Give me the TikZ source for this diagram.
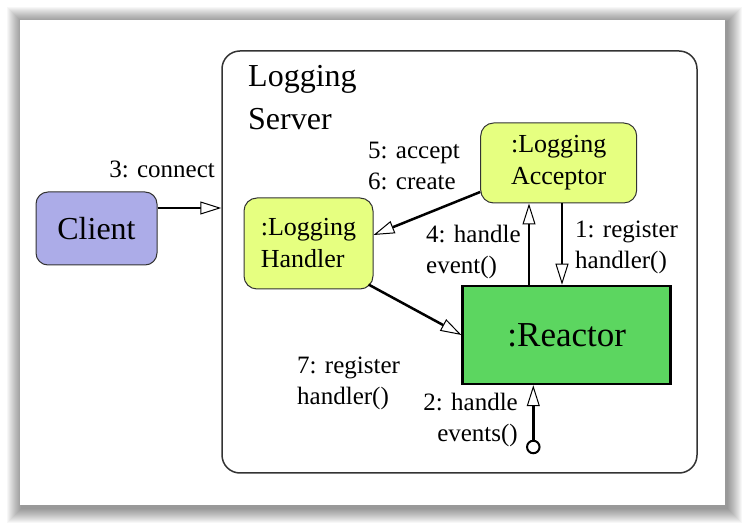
\documentclass[tikz,border=0pt]{standalone}
\usepackage{fontspec}
\setmainfont{Liberation Serif}[Ligatures=TeX]
\usetikzlibrary{arrows.meta}
\definecolor{clientblue}{RGB}{172,172,232}
\definecolor{loggeryellow}{RGB}{230,255,128}
\definecolor{reactorgreen}{RGB}{92,214,96}
\def\card{(20,20) rectangle (725,505)}

\begin{document}
\begin{tikzpicture}[x=1pt,y=-1pt,
	obj/.style={draw=black!80,line width=1pt,rounded corners=13pt,fill=loggeryellow,align=left,font=\fontsize{26}{32}\selectfont},
	msg/.style={line width=2.5pt,-{Triangle[length=21pt,width=13pt,line width=1pt,fill=white]}},
	lbl/.style={inner sep=0pt,font=\fontsize{25}{31}\selectfont}]
	
	\useasboundingbox (0,0) rectangle (745,526);
	\fill[white] (0,0) rectangle (745,526);
	\foreach \i in {1,...,15}
		\fill[black,opacity=0.03] (22-\i,22-\i) rectangle (727+\i,508+\i);
	\fill[white] \card;
	
	\node[draw=black!80,line width=1.5pt,rounded corners=18pt,minimum width=475pt,minimum height=422pt] (server) at (459.5,262) {};
	\node[anchor=base west,align=left,inner sep=0pt,font=\fontsize{32}{43}\selectfont] (title) at (248,130) {Logging\\Server};
	\node[draw=black!80,line width=1pt,rounded corners=12pt,fill=clientblue,minimum width=121pt,minimum height=73pt,font=\fontsize{32}{38}\selectfont] (client) at (96.5,228.5) {Client};
	\node[obj,minimum width=129pt,minimum height=91pt] (handler) at (308.5,243.5) {:Logging\\Handler};
	\node[obj,minimum width=156pt,minimum height=80pt] (acceptor) at (558.7,163) {:Logging\\Acceptor};
	\node[draw,line width=2.5pt,fill=reactorgreen,minimum width=208pt,minimum height=98pt,font=\fontsize{35}{40}\selectfont] (reactor) at (566.7,335) {:Reactor};
	\node[draw,circle,line width=2pt,fill=white,inner sep=0pt,minimum size=12.5pt] (dot) at (533.3,447) {};
	
	\draw[msg] (client.east |- 0,208) -- (server.west |- 0,208);
	\draw[msg] (acceptor.west |- 0,192) -- (handler.east |- 0,235);
	\draw[msg] ([shift={(-5,-5)}]handler.south east) -- (reactor.west);
	\draw[msg] (reactor.north -| 529,0) -- (acceptor.south -| 529,0);
	\draw[msg] (acceptor.south -| 562,0) -- (reactor.north -| 562,0);
	\draw[msg] (dot) -- (reactor.south -| dot);
	
	\node[lbl,anchor=base east] (l3) at (215,178) {3: connect};
	\node[lbl,anchor=base west,align=left] (l5) at (368,190) {5: accept\\6: create};
	\node[lbl,anchor=base west,align=left] (l4) at (426,274) {4: handle\\event()};
	\node[lbl,anchor=base west,align=left] (l1) at (575,269) {1: register\\handler()};
	\node[lbl,anchor=base west,align=left] (l7) at (297,405) {7: register\\handler()};
	\node[lbl,anchor=base east,align=right] (l2) at (518,442) {2: handle\\events()};
	
\end{tikzpicture}
\end{document}
